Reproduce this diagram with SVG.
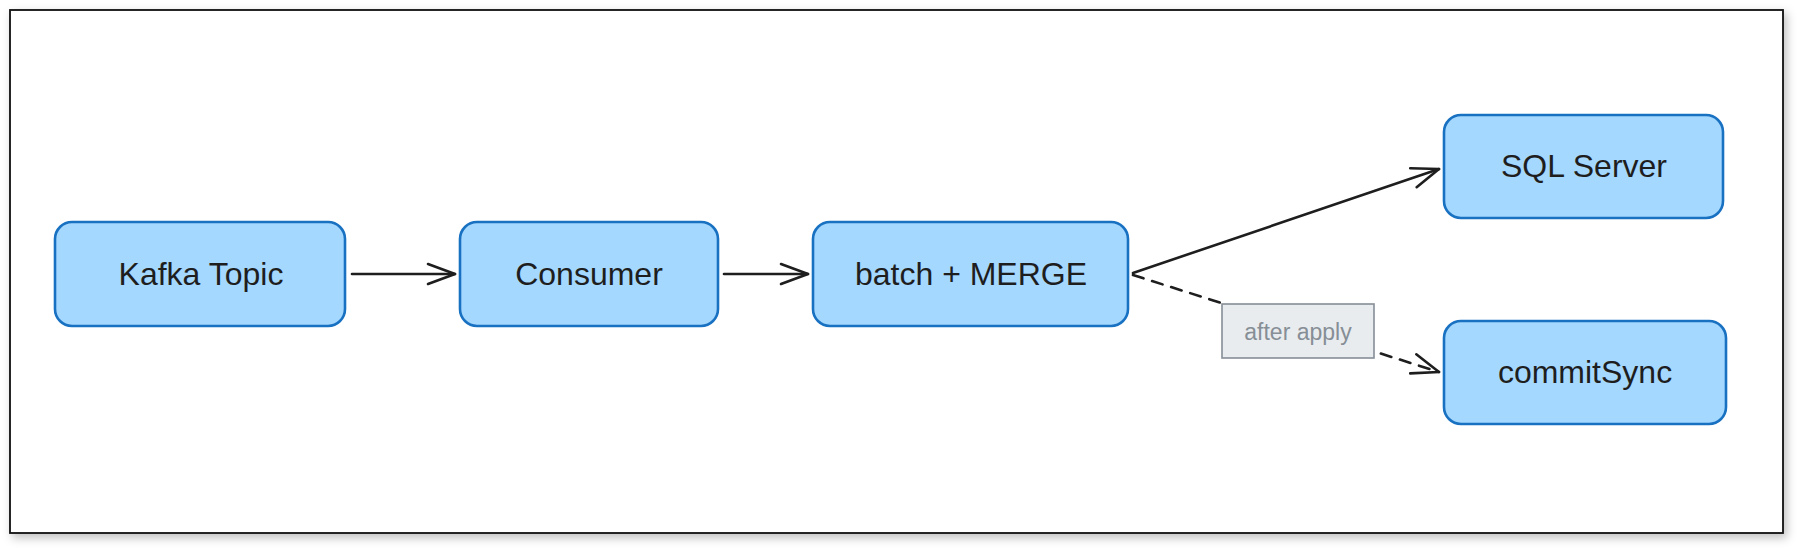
<svg xmlns="http://www.w3.org/2000/svg" width="1798" height="548" viewBox="0 0 1798 548">
<defs>
<filter id="sh" x="-5%" y="-5%" width="110%" height="115%">
<feDropShadow dx="3" dy="4" stdDeviation="5" flood-color="#000" flood-opacity="0.25"/>
</filter>
<marker id="ah" markerUnits="userSpaceOnUse" markerWidth="34" markerHeight="28" refX="30" refY="14" orient="auto">
<path d="M3,4 L30,14 L3,24" fill="none" stroke="#1e1e1e" stroke-width="2.6" stroke-linecap="round" stroke-linejoin="round"/>
</marker>
<style>
.node rect{fill:#a5d8ff;stroke:#1971c2;stroke-width:2.6}
.node text{font-family:"Liberation Sans",Arial,sans-serif;font-size:32px;fill:#1e1e1e;text-anchor:middle;dominant-baseline:central}
.edge{fill:none;stroke:#1e1e1e;stroke-width:2.6;stroke-linecap:round}
.dash{stroke-dasharray:11 9}
.lbl rect{fill:#e9ecef;stroke:#868e96;stroke-width:1.6}
.lbl text{font-family:"Liberation Sans",Arial,sans-serif;font-size:23px;fill:#868e96;text-anchor:middle;dominant-baseline:central}
</style>
</defs>
<rect x="0" y="0" width="1798" height="548" fill="#ffffff"/>
<rect x="10" y="10" width="1773" height="523" fill="#ffffff" stroke="#111" stroke-width="1.8" filter="url(#sh)"/>
<g id="connectors">
<line class="edge" x1="352" y1="274" x2="455" y2="274" marker-end="url(#ah)"/>
<line class="edge" x1="724" y1="274" x2="808" y2="274" marker-end="url(#ah)"/>
<line class="edge" x1="1133" y1="273" x2="1439" y2="169" marker-end="url(#ah)"/>
<line class="edge dash" x1="1133" y1="275" x2="1439" y2="372" marker-end="url(#ah)"/>
</g>
<g id="label-after-apply" class="lbl">
<rect x="1222" y="304" width="152" height="54"/>
<text x="1298" y="332">after apply</text>
</g>
<g id="kafka-topic" class="node">
<rect x="55" y="222" width="290" height="104" rx="17"/>
<text x="201" y="274">Kafka Topic</text>
</g>
<g id="consumer" class="node">
<rect x="460" y="222" width="258" height="104" rx="17"/>
<text x="589" y="274">Consumer</text>
</g>
<g id="batch-merge" class="node">
<rect x="813" y="222" width="315" height="104" rx="17"/>
<text x="971" y="274">batch + MERGE</text>
</g>
<g id="sql-server" class="node">
<rect x="1444" y="115" width="279" height="103" rx="17"/>
<text x="1584" y="166">SQL Server</text>
</g>
<g id="commitsync" class="node">
<rect x="1444" y="321" width="282" height="103" rx="17"/>
<text x="1585" y="372">commitSync</text>
</g>
</svg>
